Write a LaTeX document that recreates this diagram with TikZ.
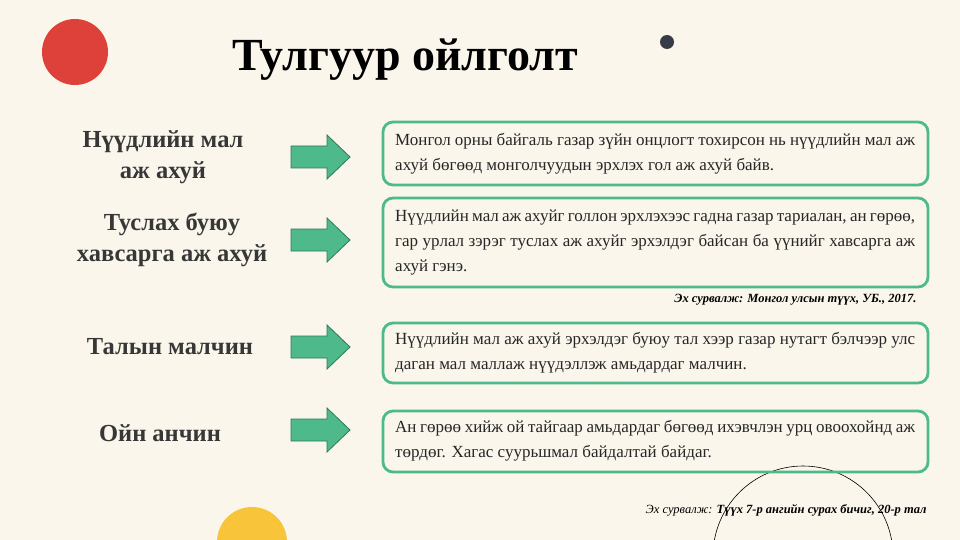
\documentclass[tikz,border=0pt]{standalone}
\usepackage{fontspec}
\setmainfont{Liberation Serif}
\definecolor{bg}{RGB}{250,246,236}
\definecolor{grn}{RGB}{78,186,140}
\definecolor{dgr}{RGB}{45,120,90}
\definecolor{lbl}{RGB}{55,55,55}
\definecolor{red1}{RGB}{222,64,58}
\definecolor{yel}{RGB}{247,196,58}
\definecolor{dot}{RGB}{55,60,72}
\begin{document}
\begin{tikzpicture}[x=1pt,y=-1pt,
  wbox/.style={draw=grn,line width=2.8pt,rounded corners=10pt},
  body/.style={font=\fontsize{17}{25}\selectfont,text=black!85,align=justify,text width=520pt,anchor=west,inner sep=0pt},
  lab/.style={font=\fontsize{24.5}{31}\selectfont\bfseries,text=lbl,align=center},
  arr/.style={draw=dgr,fill=grn,line width=0.8pt},
  src/.style={font=\fontsize{12.5}{14}\selectfont\itshape\bfseries,anchor=east}]
\fill[bg] (0,0) rectangle (960,540);
\useasboundingbox (0,0) rectangle (960,540);
\fill[red1] (75,52) circle (33);
\fill[dot] (667,42) circle (7);
\fill[yel] (252,542) circle (35);
\draw[black,line width=0.6pt] (803,556) circle (90);
\node[font=\fontsize{46}{50}\selectfont\bfseries] (title) at (405,60) {Тулгуур ойлголт};
\node[lab] (l1) at (163,157) {Нүүдлийн мал\\аж ахуй};
\node[lab] (l2) at (172,240) {Туслах буюу\\хавсарга аж ахуй};
\node[lab] (l3) at (170,347) {Талын малчин};
\node[lab] (l4) at (160,433) {Ойн анчин};
\foreach \n/\y in {a1/157,a2/240,a3/347,a4/430}{
  \draw[arr] (291,\y-11) -- (327,\y-11) -- (327,\y-22) -- (350,\y) -- (327,\y+22) -- (327,\y+11) -- (291,\y+11) -- cycle;
  \coordinate (\n) at (320,\y);
}
\draw[wbox] (383,122) rectangle (928,185);
\draw[wbox] (383,198) rectangle (928,287);
\draw[wbox] (383,323) rectangle (928,383);
\draw[wbox] (383,411) rectangle (928,472);
\node[body] (t1) at (395,154) {Монгол орны байгаль газар зүйн онцлогт тохирсон нь нүүдлийн мал аж ахуй бөгөөд монголчуудын эрхлэх гол аж ахуй байв.};
\node[body] (t2) at (395,243) {Нүүдлийн мал аж ахуйг голлон эрхлэхээс гадна газар тариалан, ан гөрөө, гар урлал зэрэг туслах аж ахуйг эрхэлдэг байсан ба үүнийг хавсарга аж ахуй гэнэ.};
\node[body] (t3) at (395,353) {Нүүдлийн мал аж ахуй эрхэлдэг буюу тал хээр газар нутагт бэлчээр улс даган мал маллаж нүүдэллэж амьдардаг малчин.};
\node[body] (t4) at (395,441) {Ан гөрөө хийж ой тайгаар амьдардаг бөгөөд ихэвчлэн урц овоохойнд аж төрдөг. Хагас суурьшмал байдалтай байдаг.};
\node[src] (s1) at (920,300) {Эх сурвалж: Монгол улсын түүх, УБ., 2017.};
\node[src,font=\fontsize{12.5}{14}\selectfont\itshape] (s2) at (930,510) {Эх сурвалж: \textbf{Түүх 7-р ангийн сурах бичиг, 20-р тал}};
\end{tikzpicture}
\end{document}
